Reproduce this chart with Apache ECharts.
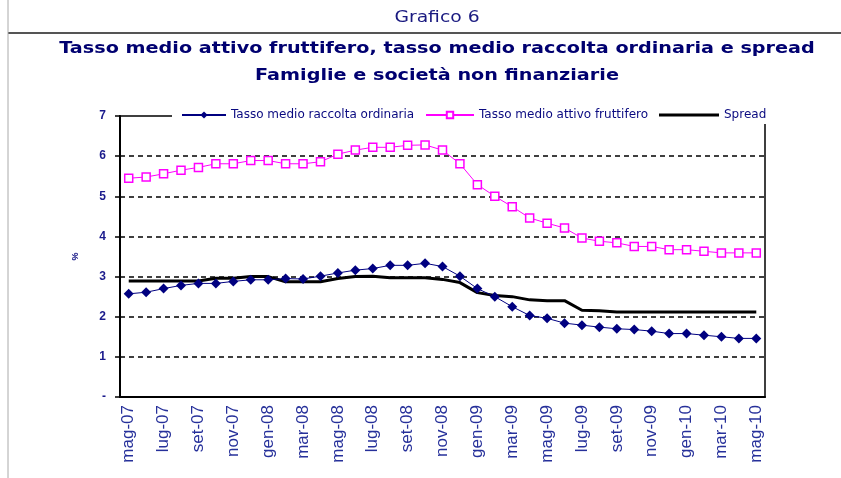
<!DOCTYPE html>
<html>
<head>
<meta charset="utf-8">
<script src="https://cdn.jsdelivr.net/npm/echarts@6/dist/echarts.min.js"></script>
<style>
  html, body { margin: 0; padding: 0; background: #fff; }
  #chart { width: 841px; height: 478px; }
</style>
</head>
<body>
<div id="chart"></div>
<script>
// mesi (mag-07 .. mag-10)
var months = ['mag-07','giu-07','lug-07','ago-07','set-07','ott-07','nov-07','dic-07',
  'gen-08','feb-08','mar-08','apr-08','mag-08','giu-08','lug-08','ago-08','set-08','ott-08','nov-08','dic-08',
  'gen-09','feb-09','mar-09','apr-09','mag-09','giu-09','lug-09','ago-09','set-09','ott-09','nov-09','dic-09',
  'gen-10','feb-10','mar-10','apr-10','mag-10'];

var raccolta = [2.57, 2.61, 2.70, 2.78, 2.83, 2.83, 2.88, 2.92, 2.92, 2.95, 2.94, 3.01,
  3.09, 3.16, 3.20, 3.28, 3.28, 3.33, 3.25, 3.01, 2.70, 2.50, 2.25, 2.03, 1.96,
  1.84, 1.79, 1.74, 1.70, 1.68, 1.64, 1.58, 1.58, 1.54, 1.50, 1.46, 1.46];

var attivo = [5.45, 5.48, 5.56, 5.65, 5.72, 5.81, 5.81, 5.89, 5.89, 5.81, 5.81, 5.86,
  6.05, 6.15, 6.22, 6.22, 6.27, 6.28, 6.15, 5.81, 5.29, 5.00, 4.74, 4.46, 4.33,
  4.21, 3.96, 3.88, 3.84, 3.75, 3.75, 3.67, 3.67, 3.63, 3.59, 3.59, 3.59];

var spread = [2.89, 2.89, 2.89, 2.89, 2.89, 2.96, 2.96, 3.00, 3.00, 2.87, 2.87, 2.87,
  2.95, 3.00, 3.01, 2.97, 2.97, 2.97, 2.93, 2.85, 2.60, 2.53, 2.50, 2.42, 2.40,
  2.40, 2.16, 2.15, 2.12, 2.12, 2.12, 2.12, 2.12, 2.12, 2.12, 2.12, 2.12];

var yLabels = ['-', '1', '2', '3', '4', '5', '6', '7'];

var names = ['Tasso medio raccolta ordinaria', 'Tasso medio attivo fruttifero', 'Spread'];

var chart = echarts.init(document.getElementById('chart'));

var legendText = { color: '#0a0a80', fontSize: 12, fontFamily: 'DejaVu Sans' };

var option = {
  animation: false,
  graphic: [
    { type: 'line', shape: { x1: 8, y1: 33, x2: 841, y2: 33 }, style: { stroke: '#555', lineWidth: 2 } },
    { type: 'line', shape: { x1: 8, y1: 0, x2: 8, y2: 478 }, style: { stroke: '#aaa', lineWidth: 1 } },
    // titoli (testo un po' allargato come nell'originale)
    { type: 'text', x: 437, y: 18, scaleX: 1.25,
      style: { text: 'Grafico 6', textAlign: 'center', textVerticalAlign: 'middle',
        font: 'normal 15px "DejaVu Sans"', fill: '#1a1a80' } },
    { type: 'text', x: 437, y: 49, scaleX: 1.28,
      style: { text: 'Tasso medio attivo fruttifero, tasso medio raccolta ordinaria e spread',
        textAlign: 'center', textVerticalAlign: 'middle', font: 'bold 15px "DejaVu Sans"', fill: '#000070' } },
    { type: 'text', x: 437, y: 76, scaleX: 1.28,
      style: { text: 'Famiglie e società non finanziarie',
        textAlign: 'center', textVerticalAlign: 'middle', font: 'bold 15px "DejaVu Sans"', fill: '#000070' } },
    // sfondo bianco della legenda sopra il bordo del grafico
    { type: 'rect', z: 3, shape: { x: 172, y: 108, width: 600, height: 16 }, style: { fill: '#fff' } }
  ],
  legend: [
    { data: [names[0]], left: 181, top: 109, itemWidth: 44, itemHeight: 9, itemGap: 3, textStyle: legendText, padding: 0 },
    { data: [names[1]], left: 425, top: 109, itemWidth: 48, itemHeight: 8, itemGap: 3, textStyle: legendText, padding: 0 },
    { data: [{ name: names[2], icon: 'rect' }], left: 659, top: 109, itemWidth: 60, itemHeight: 3, itemGap: 3,
      textStyle: legendText, padding: 0 }
  ],
  grid: {
    left: 120, right: 76, top: 116, bottom: 81,
    show: true, borderColor: '#000', borderWidth: 1.5
  },
  xAxis: {
    type: 'category',
    data: months,
    boundaryGap: true,
    axisLine: { lineStyle: { color: '#000', width: 2 } },
    axisTick: { interval: 1, length: 5, lineStyle: { color: '#000', width: 1.5 } },
    axisLabel: {
      interval: 1, rotate: 90, margin: 8,
      color: '#26309a', fontSize: 17, fontFamily: 'Liberation Sans'
    }
  },
  yAxis: {
    type: 'value',
    min: 0, max: 7, interval: 1,
    name: '%',
    nameLocation: 'middle',
    nameRotate: 90,
    nameGap: 40,
    nameTextStyle: { color: '#0a0a80', fontSize: 9, fontWeight: 'bold' },
    axisLine: { show: true, lineStyle: { color: '#000', width: 2 } },
    axisTick: { show: true, length: 5, lineStyle: { color: '#000', width: 1.5 } },
    axisLabel: {
      margin: 14, color: '#1a1a8c', fontSize: 12, fontWeight: 'bold', fontFamily: 'Liberation Sans',
      formatter: function (v) { return yLabels[v]; }
    },
    splitLine: { showMinLine: false, showMaxLine: false,
      lineStyle: { color: '#000', width: 1.5, type: [5, 4] } }
  },
  series: [
    {
      name: names[0], type: 'line', data: raccolta, z: 3,
      symbol: 'diamond', symbolSize: 10,
      lineStyle: { color: '#000080', width: 1 },
      itemStyle: { color: '#000080' }
    },
    {
      name: names[1], type: 'line', data: attivo, z: 3,
      symbol: 'rect', symbolSize: 8,
      lineStyle: { color: '#ff00ff', width: 1 },
      itemStyle: { color: '#fff', borderColor: '#ff00ff', borderWidth: 1.5 }
    },
    {
      name: names[2], type: 'line', data: spread, z: 2,
      symbol: 'none',
      lineStyle: { color: '#000', width: 3 },
      itemStyle: { color: '#000' }
    }
  ]
};

chart.setOption(option);
</script>
</body>
</html>
